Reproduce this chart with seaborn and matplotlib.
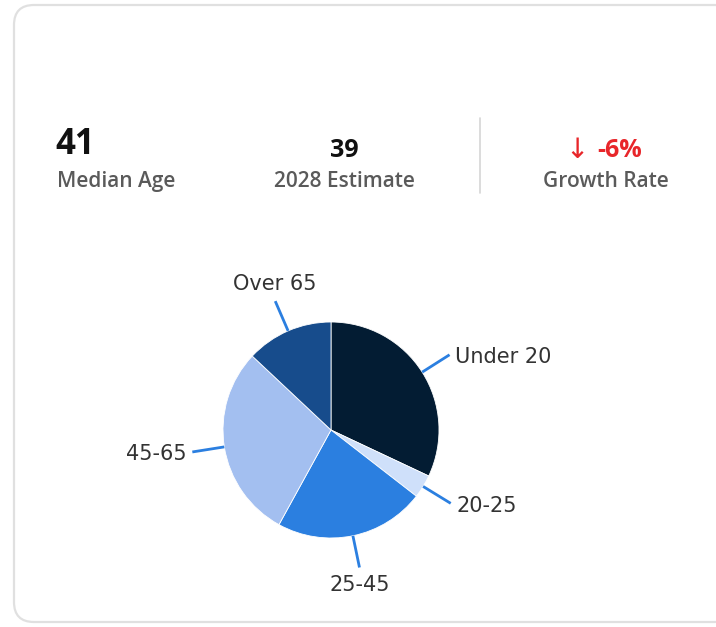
#!/usr/bin/env python3
"""
Age distribution card: headline stats plus a pie of age groups
"""

import numpy as np
import matplotlib.pyplot as plt
import seaborn as sns
from matplotlib.patches import FancyBboxPatch

sns.set_theme(style="white")
plt.rcParams['font.family'] = ['Open Sans', 'DejaVu Sans']

# data
age_groups = ['Under 20', '20-25', '25-45', '45-65', 'Over 65']
shares = [32.0, 3.5, 22.5, 29.0, 13.0]
slice_colors = ['#031c33', '#cfe0fa', '#2b7fe0', '#a3bff0', '#174c8c']

stat_values = ['41', '39', '-6%']
stat_labels = ['Median Age', '2028 Estimate', 'Growth Rate']

W, H = 716, 627
fig = plt.figure(figsize=(W / 100, H / 100), dpi=100)

# background axes in pixel units (y down)
bg = fig.add_axes([0, 0, 1, 1])
bg.set_xlim(0, W)
bg.set_ylim(H, 0)
bg.axis('off')

card = FancyBboxPatch((14, 5), 720, 617, boxstyle="round,pad=0,rounding_size=20",
                      facecolor='white', edgecolor='#e0e0e0', linewidth=1.6)
bg.add_patch(card)

label_kw = dict(fontsize=15, fontweight='semibold', color='#5a5a5a', va='baseline')
num_kw = dict(fontweight='bold', color='#111111', va='baseline')

# header stats
bg.text(55, 154, stat_values[0], fontsize=25, ha='left', **num_kw)
bg.text(57, 187, stat_labels[0], ha='left', **label_kw)

bg.text(344, 157, stat_values[1], fontsize=18, ha='center', **num_kw)
bg.text(344.5, 187, stat_labels[1], ha='center', **label_kw)

bg.plot([480, 480], [118, 193], color='#d5d5d5', lw=1.2)

bg.text(577, 158, '\u2193', fontsize=20, color='#e8262a', ha='center', va='baseline',
        family=['DejaVu Sans'])
bg.text(597, 157, stat_values[2], fontsize=18, fontweight='bold', color='#e8262a',
        ha='left', va='baseline')
bg.text(606, 187, stat_labels[2], ha='center', **label_kw)

# pie axes: centre (331, 430) px, radius 108 px
R = 108
lim = 1.8
side = 2 * lim * R
cx, cy = 331, 430
ax = fig.add_axes([(cx - side / 2) / W, (H - cy - side / 2) / H, side / W, side / H])

wedges, _ = ax.pie(shares, colors=slice_colors, startangle=90, counterclock=False,
                   radius=1.0, wedgeprops=dict(edgecolor='white', linewidth=0.6))
ax.set_xlim(-lim, lim)
ax.set_ylim(-lim, lim)
ax.set_aspect('equal')
ax.axis('off')

line_color = '#2b7fe0'
for w, label in zip(wedges, age_groups):
    mid = np.deg2rad((w.theta1 + w.theta2) / 2)
    dx, dy = np.cos(mid), np.sin(mid)
    ax.plot([dx * 1.0, dx * 1.3], [dy * 1.0, dy * 1.3], color=line_color, lw=2,
            solid_capstyle='butt', clip_on=False)
    if abs(dx) > abs(dy):
        ha = 'left' if dx > 0 else 'right'
        va = 'center'
        tx, ty = dx * 1.3 + np.sign(dx) * 0.05, dy * 1.3 - 0.02
    else:
        ha = 'center'
        va = 'bottom' if dy > 0 else 'top'
        tx, ty = dx * 1.3, dy * 1.3 + np.sign(dy) * 0.07
    ax.text(tx, ty, label, fontsize=15, color='#333333', ha=ha, va=va,
            family=['DejaVu Sans'], clip_on=False)

plt.savefig('out.png', dpi=100)
